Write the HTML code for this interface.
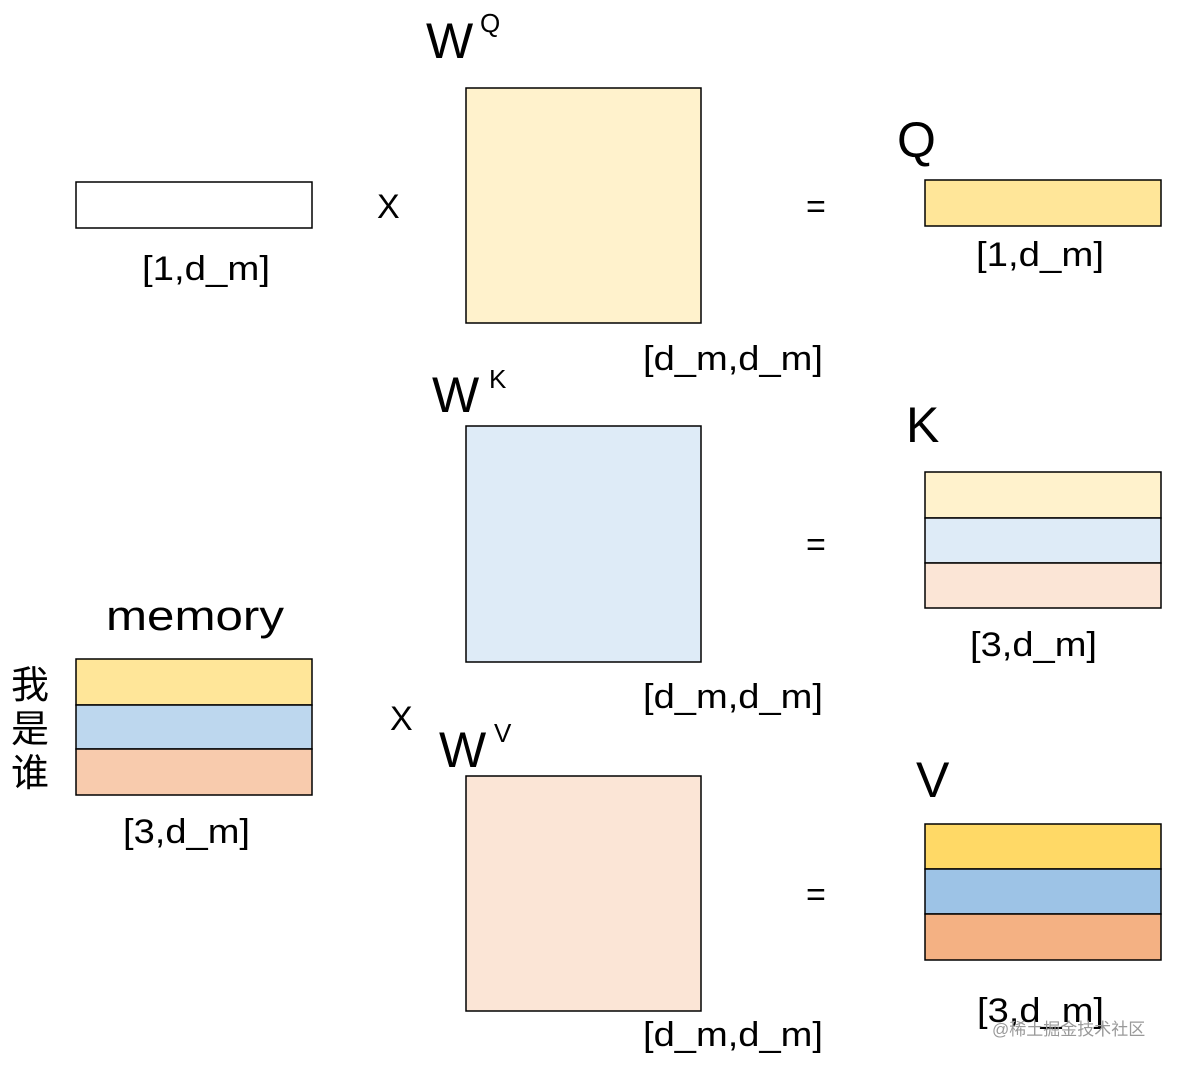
<!DOCTYPE html>
<html><head><meta charset="utf-8"><style>html,body{margin:0;padding:0;background:#fff}</style></head>
<body>
<svg width="1180" height="1066" viewBox="0 0 1180 1066" xmlns="http://www.w3.org/2000/svg" font-family="Liberation Sans, sans-serif" fill="#000">
<g stroke="#000" stroke-width="1.5">
<rect x="76" y="182" width="236" height="46" fill="#fff"/>
<rect x="466" y="88" width="235" height="235" fill="#FFF2CC"/>
<rect x="925" y="180" width="236" height="46" fill="#FFE699"/>
<rect x="466" y="426" width="235" height="236" fill="#DEEBF7"/>
<rect x="925" y="472" width="236" height="46" fill="#FFF2CC"/>
<rect x="925" y="518" width="236" height="45" fill="#DEEBF7"/>
<rect x="925" y="563" width="236" height="45" fill="#FBE5D6"/>
<rect x="76" y="659" width="236" height="46" fill="#FFE699"/>
<rect x="76" y="705" width="236" height="44" fill="#BDD7EE"/>
<rect x="76" y="749" width="236" height="46" fill="#F8CBAD"/>
<rect x="466" y="776" width="235" height="235" fill="#FBE5D6"/>
<rect x="925" y="824" width="236" height="45" fill="#FFD966"/>
<rect x="925" y="869" width="236" height="45" fill="#9DC3E6"/>
<rect x="925" y="914" width="236" height="46" fill="#F4B183"/>
</g>
<g font-size="34">
<text x="142" y="280" textLength="128" lengthAdjust="spacingAndGlyphs">[1,d_m]</text>
<text x="976" y="266" textLength="128" lengthAdjust="spacingAndGlyphs">[1,d_m]</text>
<text x="643" y="370" textLength="180" lengthAdjust="spacingAndGlyphs">[d_m,d_m]</text>
<text x="643" y="708" textLength="180" lengthAdjust="spacingAndGlyphs">[d_m,d_m]</text>
<text x="643" y="1046" textLength="180" lengthAdjust="spacingAndGlyphs">[d_m,d_m]</text>
<text x="970" y="656" textLength="127" lengthAdjust="spacingAndGlyphs">[3,d_m]</text>
<text x="123" y="843" textLength="127" lengthAdjust="spacingAndGlyphs">[3,d_m]</text>
<text x="977" y="1022" textLength="127" lengthAdjust="spacingAndGlyphs">[3,d_m]</text>
<text x="377" y="218">X</text>
<text x="390" y="730">X</text>
<text x="806" y="218">=</text>
<text x="806" y="556">=</text>
<text x="806" y="906">=</text>
</g>
<g font-size="50">
<text x="426" y="58">W</text>
<text x="432" y="412">W</text>
<text x="439" y="767">W</text>
<text x="897" y="157">Q</text>
<text x="906" y="442">K</text>
<text x="916" y="797">V</text>
</g>
<g font-size="26">
<text x="480" y="32">Q</text>
<text x="489" y="388">K</text>
<text x="494" y="742">V</text>
</g>
<text x="106" y="630" font-size="42" textLength="178" lengthAdjust="spacingAndGlyphs">memory</text>
<g font-family="Liberation Sans, Noto Sans CJK SC, sans-serif" font-size="38">
<text x="11" y="698">我</text>
<text x="11" y="742">是</text>
<text x="11" y="786">谁</text>
</g>
<text x="992" y="1035" font-family="Liberation Sans, Noto Sans CJK SC, sans-serif" font-size="17" fill="#999">@稀土掘金技术社区</text>
</svg>
</body></html>
